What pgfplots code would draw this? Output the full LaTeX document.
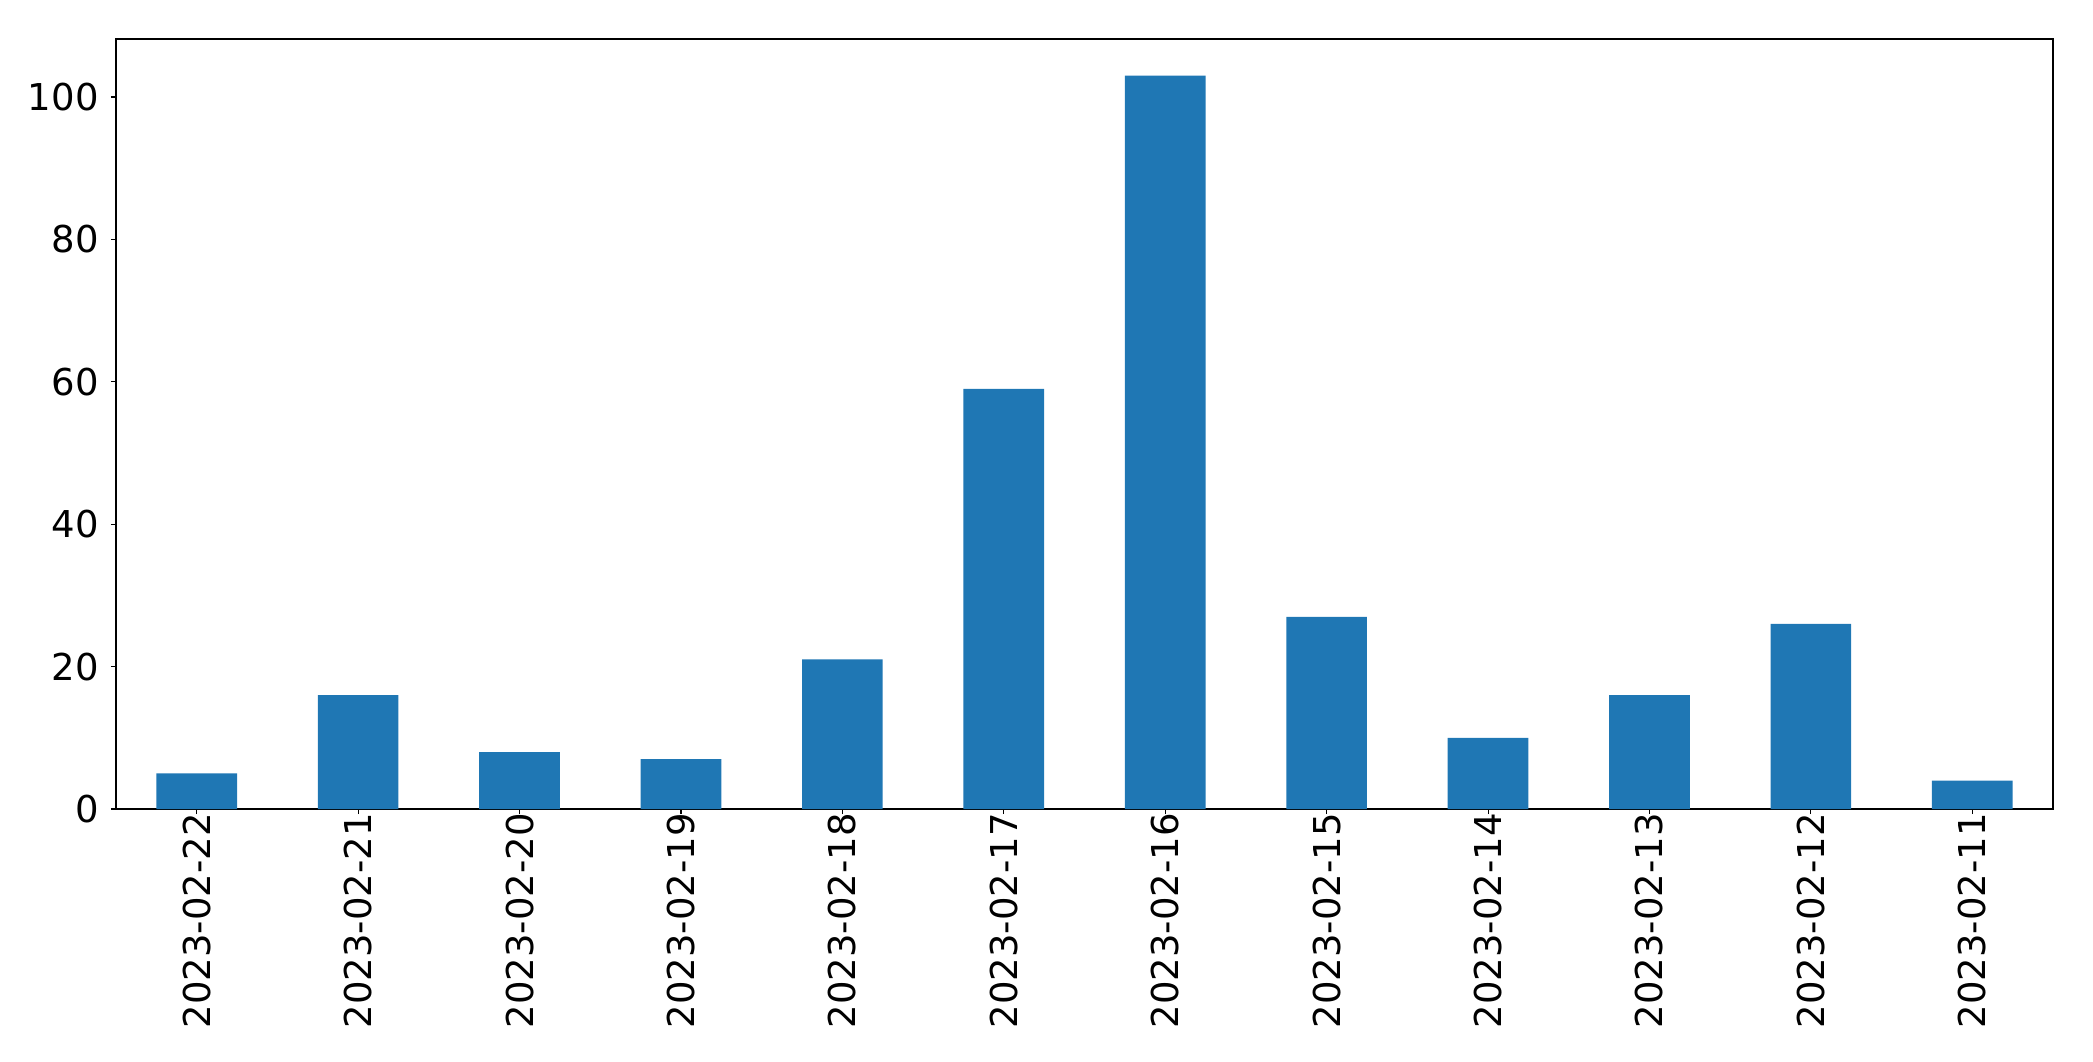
\documentclass[border=0pt]{standalone}
\usepackage{pgfplots}
\pgfplotsset{compat=1.18}
\usepackage{fontspec}
\setmainfont{DejaVu Sans}
\definecolor{mplblue}{RGB}{31,119,180}
\begin{document}
\fontsize{18.5}{22}\selectfont
\begin{tikzpicture}
\useasboundingbox (-58pt,-126pt) rectangle (988.5pt,404.5pt);
\begin{axis}[
  at={(0pt,0pt)}, anchor=south west,
  scale only axis,
  width=968.5pt, height=385pt,
  xmin=-0.5, xmax=11.5,
  ymin=0, ymax=108.15,
  axis line style={line width=0.55pt},
  tick style={line width=0.55pt, black},
  major tick length=2.5pt,
  tick align=outside,
  xtick={0,...,11},
  xticklabels={2023-02-22,2023-02-21,2023-02-20,2023-02-19,2023-02-18,2023-02-17,2023-02-16,2023-02-15,2023-02-14,2023-02-13,2023-02-12,2023-02-11},
  ytick={0,20,40,60,80,100},
  xtick pos=bottom, ytick pos=left,
  /pgf/number format/assume math mode=true,
  ticklabel style={font=\fontsize{18.5}{22}\selectfont},
  xticklabel style={rotate=90, anchor=east, inner sep=0pt},
  xticklabel shift=-0.5pt,
  yticklabel style={anchor=east, inner sep=0pt},
  yticklabel shift=6pt,
]
\addplot[ybar, bar width=40.35pt, fill=mplblue, draw=none] coordinates {
 (0,5) (1,16) (2,8) (3,7) (4,21) (5,59) (6,103) (7,27) (8,10) (9,16) (10,26) (11,4)
};
\end{axis}
\end{tikzpicture}
\end{document}
